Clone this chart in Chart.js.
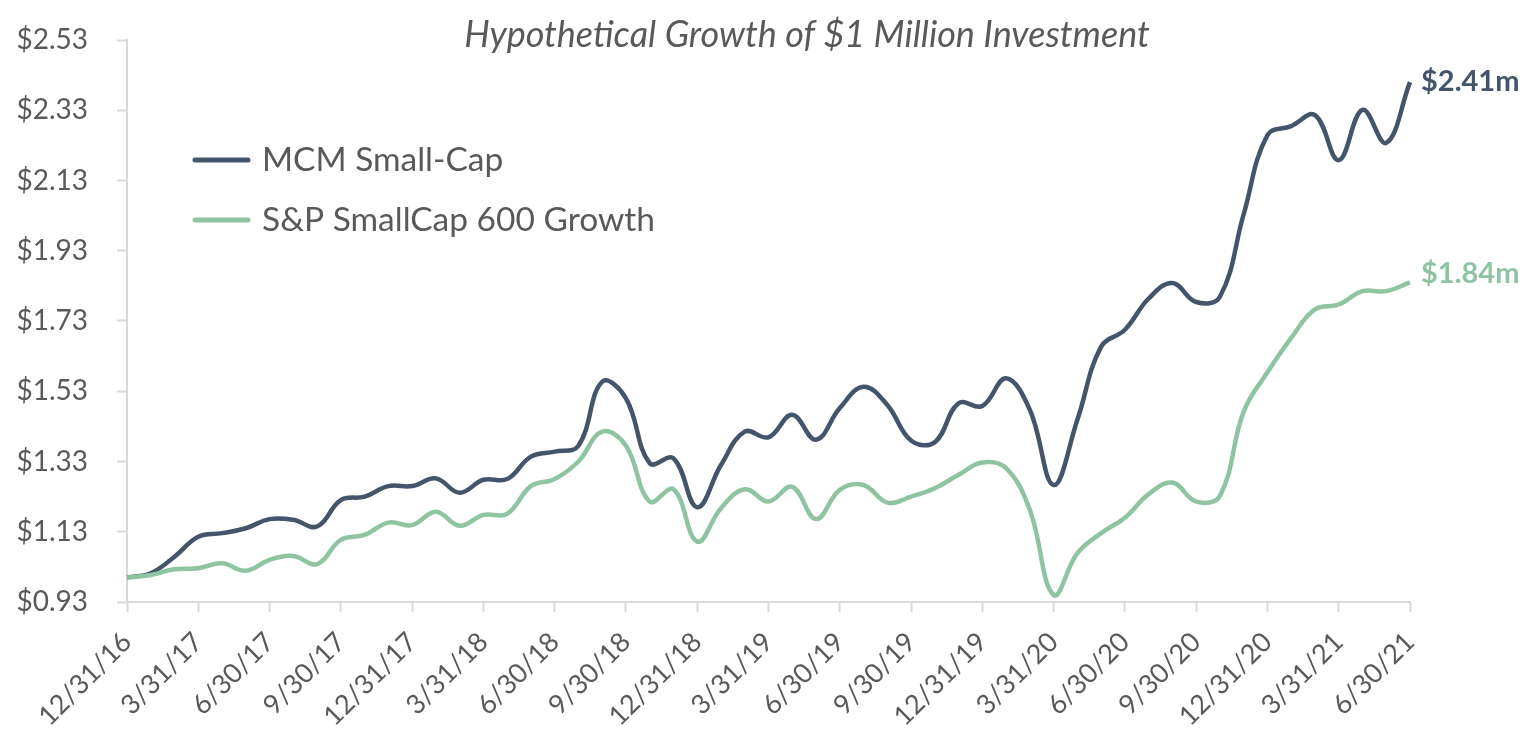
<!DOCTYPE html>
<html>
<head>
<meta charset="utf-8">
<script src="https://cdn.jsdelivr.net/npm/chart.js@4.4.1/dist/chart.umd.min.js"></script>
<style>
  html, body { margin: 0; padding: 0; background: #fff; }
  #wrap { width: 1522px; height: 729px; }
</style>
</head>
<body>
<div id="wrap"><canvas id="growthChart" width="1522" height="729"></canvas></div>
<script>
// month-end dates, only quarter ends get a label on the axis
const months = [
  '12/31/16',
  '1/31/17','2/28/17','3/31/17','4/30/17','5/31/17','6/30/17','7/31/17','8/31/17','9/30/17','10/31/17','11/30/17','12/31/17',
  '1/31/18','2/28/18','3/31/18','4/30/18','5/31/18','6/30/18','7/31/18','8/31/18','9/30/18','10/31/18','11/30/18','12/31/18',
  '1/31/19','2/28/19','3/31/19','4/30/19','5/31/19','6/30/19','7/31/19','8/31/19','9/30/19','10/31/19','11/30/19','12/31/19',
  '1/31/20','2/29/20','3/31/20','4/30/20','5/31/20','6/30/20','7/31/20','8/31/20','9/30/20','10/31/20','11/30/20','12/31/20',
  '1/31/21','2/28/21','3/31/21','4/30/21','5/31/21','6/30/21'
];

// growth of $1m, in $ millions
const mcmSmallCap = [
  1.00, 1.012, 1.059, 1.116, 1.126, 1.14, 1.166, 1.164, 1.145, 1.22, 1.23, 1.26, 1.26,
  1.282, 1.241, 1.278, 1.28, 1.344, 1.358, 1.375, 1.557, 1.51, 1.325, 1.339, 1.20,
  1.32, 1.415, 1.399, 1.463, 1.392, 1.482, 1.543, 1.491, 1.39, 1.385, 1.496, 1.488,
  1.567, 1.477, 1.263, 1.449, 1.657, 1.705, 1.794, 1.838, 1.784, 1.799, 2.034, 2.259,
  2.285, 2.316, 2.188, 2.331, 2.237, 2.41
];
const sp600Growth = [
  1.00, 1.007, 1.023, 1.026, 1.04, 1.019, 1.05, 1.061, 1.038, 1.107, 1.121, 1.156, 1.149,
  1.187, 1.147, 1.178, 1.181, 1.26, 1.28, 1.33, 1.415, 1.375, 1.216, 1.251, 1.102,
  1.197, 1.251, 1.216, 1.258, 1.166, 1.249, 1.263, 1.213, 1.23, 1.254, 1.292, 1.327,
  1.311, 1.192, 0.95, 1.069, 1.126, 1.17, 1.237, 1.27, 1.216, 1.232, 1.472, 1.584,
  1.682, 1.763, 1.777, 1.815, 1.815, 1.84
];

const yTicks = [0.93, 1.13, 1.33, 1.53, 1.73, 1.93, 2.13, 2.33, 2.53];

const DARK = '#44546A';
const GREEN = '#8FC4A2';
const GREY = '#595959';
const AXIS = '#D9D9D9';
const FONT = 'Lato, "Open Sans", sans-serif';

// title + legend drawn inside the plot, like the excel original
const overlay = {
  id: 'overlay',
  afterDraw(chart) {
    const c = chart.ctx;
    c.save();
    c.fillStyle = GREY;
    c.font = 'italic 36px ' + FONT;
    c.textAlign = 'center';
    c.textBaseline = 'middle';
    c.fillText('Hypothetical Growth of $1 Million Investment', 807, 35);

    const order = [1, 0];
    order.forEach((di, row) => {
      const ds = chart.data.datasets[di];
      const y = 160 + row * 60;
      c.strokeStyle = ds.borderColor;
      c.lineWidth = 5;
      c.lineCap = 'round';
      c.beginPath();
      c.moveTo(195, y);
      c.lineTo(248, y);
      c.stroke();
      c.fillStyle = GREY;
      c.font = '33.5px ' + FONT;
      c.textAlign = 'left';
      c.fillText(ds.label, 262, y);
    });
    c.restore();
  }
};

// "$x.xxm" next to the last point of each line
const endLabels = {
  id: 'endLabels',
  afterDatasetsDraw(chart) {
    const c = chart.ctx;
    c.save();
    c.font = 'bold 29px ' + FONT;
    c.textAlign = 'left';
    c.textBaseline = 'middle';
    chart.data.datasets.forEach((ds, i) => {
      const pts = chart.getDatasetMeta(i).data;
      const p = pts[pts.length - 1];
      const v = ds.data[ds.data.length - 1];
      c.fillStyle = ds.borderColor;
      c.fillText('$' + v.toFixed(2) + 'm', p.x + 11, p.y + ds.labelShift);
    });
    c.restore();
  }
};

const ctx = document.getElementById('growthChart');

new Chart(ctx, {
  type: 'line',
  data: {
    labels: months,
    datasets: [{
      label: 'S&P SmallCap 600 Growth',
      data: sp600Growth,
      borderColor: GREEN,
      borderWidth: 4.5,
      pointRadius: 0,
      tension: 0.4,
      order: 0,
      labelShift: -9
    }, {
      label: 'MCM Small-Cap',
      data: mcmSmallCap,
      borderColor: DARK,
      borderWidth: 4.5,
      pointRadius: 0,
      tension: 0.4,
      order: 1,
      labelShift: -1
    }]
  },
  options: {
    responsive: false,
    animation: false,
    clip: false,
    layout: { padding: { left: 0, right: 112, top: 40, bottom: 0 } },
    plugins: {
      legend: { display: false },
      title: { display: false },
      tooltip: { enabled: false }
    },
    scales: {
      x: {
        type: 'category',
        offset: false,
        border: { color: AXIS, width: 2 },
        grid: {
          drawOnChartArea: false,
          drawTicks: true,
          tickLength: 10,
          tickWidth: 2,
          tickColor: (c) => (c.index % 3 === 0 ? AXIS : 'rgba(0,0,0,0)')
        },
        ticks: {
          autoSkip: false,
          minRotation: 45,
          maxRotation: 45,
          padding: 14,
          color: GREY,
          font: { family: FONT, size: 27 },
          callback: function (val, i) { return i % 3 === 0 ? this.getLabelForValue(val) : ''; }
        },
        afterFit: (s) => { s.height = 127; }
      },
      y: {
        min: 0.93,
        max: 2.53,
        border: { color: AXIS, width: 2 },
        grid: {
          drawOnChartArea: false,
          drawTicks: true,
          tickLength: 10,
          tickWidth: 2,
          tickColor: AXIS
        },
        afterBuildTicks: (s) => { s.ticks = yTicks.map(v => ({ value: v })); },
        ticks: {
          padding: 29,
          color: GREY,
          font: { family: FONT, size: 28 },
          callback: (v) => '$' + Number(v).toFixed(2)
        },
        afterFit: (s) => { s.width = 127; s.paddingTop = 0; s.paddingBottom = 0; }
      }
    }
  },
  plugins: [endLabels, overlay]
});
</script>
</body>
</html>
